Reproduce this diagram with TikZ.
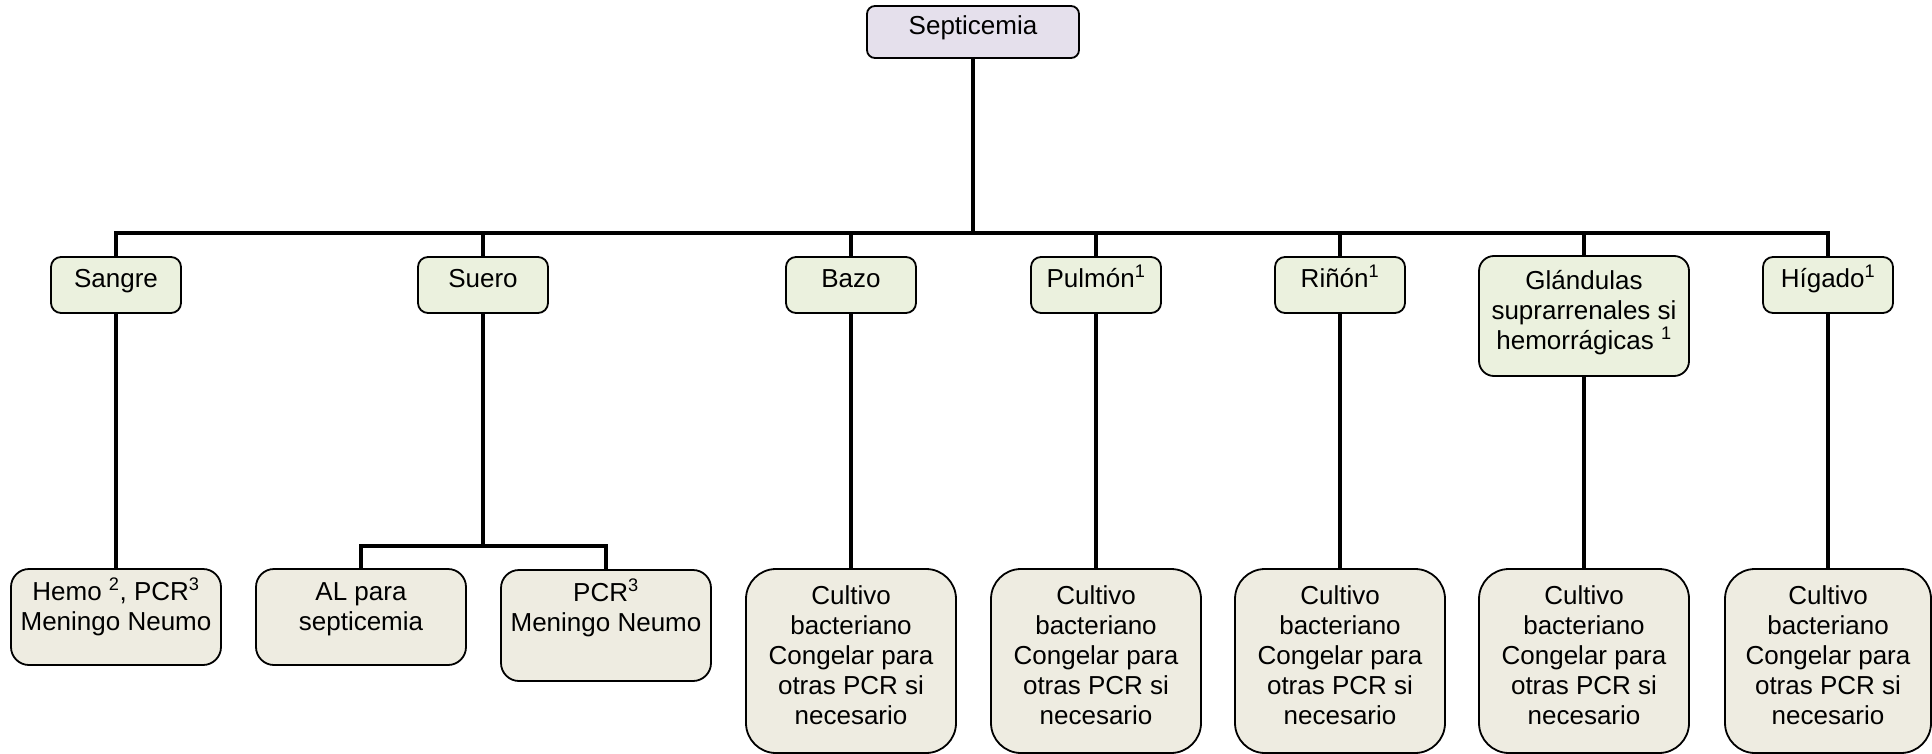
\documentclass[tikz,border=0pt]{standalone}
\usepackage{fontspec}
\setmainfont{Liberation Sans}
\definecolor{sepfill}{HTML}{E5E0EC}
\definecolor{organfill}{HTML}{EBF1DE}
\definecolor{testfill}{HTML}{EEECE1}
\newcommand{\bt}[4]{\parbox[c][#1][t]{#2}{\centering\rule{0pt}{#3}#4\par}}
\tikzset{
  basebox/.style={draw=black, line width=1.8pt, inner sep=0pt, font=\fontsize{26}{30}\selectfont},
  sepbox/.style={basebox, fill=sepfill, rounded corners=8pt},
  organbox/.style={basebox, fill=organfill, rounded corners=10pt},
  testbox/.style={basebox, fill=testfill, rounded corners=18pt},
  cultbox/.style={basebox, fill=testfill, rounded corners=30pt},
  link/.style={draw=black, line width=4.5pt}
}
\begin{document}
\begin{tikzpicture}[x=1pt,y=-1pt]
\useasboundingbox (0,0) rectangle (1932,754);
% root
\node[sepbox] (sep) at (973,32) {\bt{52pt}{212pt}{29pt}{Septicemia}};
% organs
\node[organbox] (sangre) at (116,285) {\bt{56pt}{130pt}{30pt}{Sangre}};
\node[organbox] (suero) at (483,285) {\bt{56pt}{130pt}{30pt}{Suero}};
\node[organbox] (bazo) at (851,285) {\bt{56pt}{130pt}{30pt}{Bazo}};
\node[organbox] (pulmon) at (1096,285) {\bt{56pt}{130pt}{30pt}{Pulmón\textsuperscript{1}}};
\node[organbox] (rinon) at (1340,285) {\bt{56pt}{130pt}{30pt}{Riñón\textsuperscript{1}}};
\node[organbox, rounded corners=15pt] (glandulas) at (1584,316) {\bt{120pt}{210pt}{33pt}{Glándulas\\suprarrenales si\\hemorrágicas \textsuperscript{1}}};
\node[organbox] (higado) at (1828,285) {\bt{56pt}{130pt}{30pt}{Hígado\textsuperscript{1}}};
% tests
\node[testbox] (hemo) at (116,617) {\bt{96pt}{210pt}{31pt}{Hemo \textsuperscript{2}, PCR\textsuperscript{3}\\Meningo Neumo}};
\node[testbox] (al) at (361,617) {\bt{96pt}{210pt}{31pt}{AL para\\septicemia}};
\node[testbox] (pcr) at (606,625.5) {\bt{111pt}{210pt}{31pt}{PCR\textsuperscript{3}\\Meningo Neumo}};
\node[cultbox] (cbazo) at (851,661) {\bt{184pt}{210pt}{35pt}{Cultivo\\bacteriano\\Congelar para\\otras PCR si\\necesario}};
\node[cultbox] (cpulmon) at (1096,661) {\bt{184pt}{210pt}{35pt}{Cultivo\\bacteriano\\Congelar para\\otras PCR si\\necesario}};
\node[cultbox] (crinon) at (1340,661) {\bt{184pt}{210pt}{35pt}{Cultivo\\bacteriano\\Congelar para\\otras PCR si\\necesario}};
\node[cultbox] (cglandulas) at (1584,661) {\bt{184pt}{210pt}{35pt}{Cultivo\\bacteriano\\Congelar para\\otras PCR si\\necesario}};
\node[cultbox] (chigado) at (1828,661) {\bt{184pt}{206pt}{35pt}{Cultivo\\bacteriano\\Congelar para\\otras PCR si\\necesario}};
% connectors
\coordinate (bar) at (973,233);
\draw[link] (sep.south) -- (bar);
\foreach \n in {sangre,suero,bazo,pulmon,rinon,glandulas,higado}
  \draw[link] (bar) -| (\n.north);
\draw[link] (sangre.south) -- (hemo.north);
\coordinate (split) at (483,546);
\draw[link] (suero.south) -- (split);
\draw[link] (split) -| (al.north);
\draw[link] (split) -| (pcr.north);
\draw[link] (bazo.south) -- (cbazo.north);
\draw[link] (pulmon.south) -- (cpulmon.north);
\draw[link] (rinon.south) -- (crinon.north);
\draw[link] (glandulas.south) -- (cglandulas.north);
\draw[link] (higado.south) -- (chigado.north);
\end{tikzpicture}
\end{document}
